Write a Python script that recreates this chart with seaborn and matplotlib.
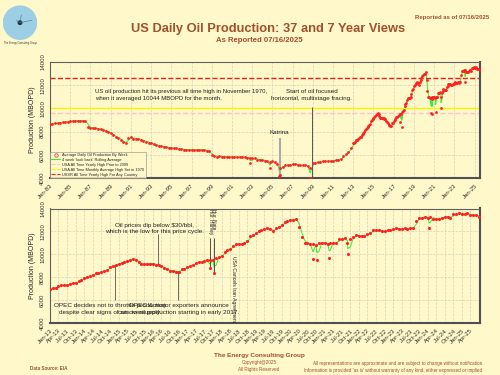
import matplotlib
matplotlib.use('Agg')
import matplotlib.pyplot as plt
from matplotlib.lines import Line2D
from matplotlib.patches import Circle
import seaborn as sns
import numpy as np
import pandas as pd


# ---- Data --------------------------------------------------------------####

# quarterly readings 1983 - 2012 (MBOPD)
hist_start = '1983-01-01'
hist_mbopd = [8650, 8680, 8700, 8720,   8750, 8800, 8830, 8860,   8900, 8930, 8950, 8950,
              8950, 8920, 8900, 8400,   8350, 8300, 8280, 8250,   8200, 8150, 8050, 7950,
              7850, 7700, 7550, 7450,   7300, 7100, 7050, 7450,   7500, 7400, 7350, 7400,
              7300, 7200, 7150, 7050,   7000, 6900, 6850, 6750,   6750, 6700, 6650, 6600,
              6600, 6550, 6550, 6500,   6500, 6450, 6450, 6450,   6450, 6400, 6450, 6450,
              6450, 6400, 6350, 6300,   5950, 5900, 5850, 5900,   5850, 5850, 5850, 5800,
              5850, 5800, 5850, 5800,   5850, 5800, 5750, 5750,   5750, 5700, 5600, 5600,
              5550, 5500, 5450, 5350,   5450, 5350, 5200, 4900,   5000, 5100, 5150, 5150,
              5200, 5200, 5150, 5100,   5100, 5100, 5050, 4900,   5300, 5300, 5350, 5400,
              5450, 5450, 5450, 5500,   5500, 5550, 5600, 5650,   5900, 6100, 6250, 6600]

# monthly readings Jan 2013 - Jul 2025 (MBOPD)
recent_start = '2013-01-01'
recent_mbopd = [7000, 7050, 7100, 7250, 7300, 7300, 7350, 7450, 7500, 7550, 7700, 7800,
                7900, 8000, 8100, 8200, 8350, 8400, 8500, 8550, 8650, 8900, 9000, 9100,
                9200, 9250, 9350, 9400, 9550, 9600, 9500, 9350, 9150, 9150, 9200, 9200,
                9200, 9100, 9050, 8950, 8800, 8700, 8550, 8550, 8500, 8500, 8700, 8700,
                8900, 9000, 9100, 9250, 9300, 9350, 9400, 9500, 9500, 9550, 9650, 9800,
                9900, 10200, 10400, 10500, 10700, 10900, 10900, 10900, 11000, 11200, 11600, 11700,
                11900, 12000, 12100, 12200, 12300, 12200, 12000, 12300, 12400, 12600, 12800, 12900,
                13000, 13000, 13100, 12400, 11500, 11000, 11000, 10900, 10900, 10800, 11000, 11000,
                11000, 10900, 11000, 11000, 11000, 11300, 11300, 11400, 11000, 11300, 11500, 11700,
                11600, 11600, 11600, 11800, 11900, 12100, 12100, 12100, 12000, 12000, 12100, 12100,
                12200, 12300, 12200, 12200, 12300, 12200, 12300, 12300, 12900, 13200, 13200, 13300,
                13200, 13300, 13100, 13100, 13100, 13200, 13300, 13300, 13200, 13500, 13500, 13600,
                13500, 13500, 13600, 13400, 13400, 13400, 13300]

# storm / outage weeks
event_dates = ['2002-10-05', '2004-09-20', '2005-09-02', '2005-09-26', '2008-09-15',
               '2017-09-01', '2017-10-10', '2020-08-28', '2020-10-10', '2021-02-19',
               '2021-09-03', '2024-01-19']
event_mbopd = [5300, 4900, 4200, 4300, 4000,
               8800, 8400, 9600, 9500, 9700,
               10000, 12300]

# reference levels
usa_high_pre2009 = 9637
usa_high_1970 = 10044
ussr_high = 12600

# colours
bg = '#FFF8CA'
brown = '#A0502D'


# ---- Build data frame -------------------------------------------------####

hist = pd.DataFrame({'date': pd.date_range(hist_start, periods=len(hist_mbopd), freq='QS'),
                     'mbopd': hist_mbopd})
recent = pd.DataFrame({'date': pd.date_range(recent_start, periods=len(recent_mbopd), freq='MS'),
                       'mbopd': recent_mbopd})
events = pd.DataFrame({'date': pd.to_datetime(event_dates), 'mbopd': event_mbopd})
df = pd.concat([hist, recent, events]).sort_values('date').reset_index(drop=True)
df['rolling'] = df['mbopd'].rolling(2, min_periods=1).mean()
df_recent = df[df['date'] >= pd.Timestamp(recent_start)]


# ---- Plot --------------------------------------------------------------####

sns.set_theme(style='white')
plt.rcParams['font.family'] = ['Liberation Sans', 'DejaVu Sans']

fig = plt.figure(figsize=(5, 3.75), dpi=100, facecolor=bg)
ax1 = fig.add_axes([0.1, 0.525, 0.86, 0.31])
ax2 = fig.add_axes([0.1, 0.138, 0.86, 0.306])


def style_axis(ax, ticks, fmt):
    ax.set_facecolor(bg)
    ax.set_ylim(4000, 14000)
    ax.set_yticks(range(4000, 14001, 2000))
    ax.set_yticklabels([str(v) for v in range(4000, 14001, 2000)], rotation=90, va='center', fontsize=4.3)
    ax.set_xticks(ticks)
    ax.set_xticklabels([t.strftime(fmt) for t in ticks], rotation=45, ha='right',
                       rotation_mode='anchor', fontsize=4.3)
    ax.tick_params(axis='both', length=2, width=0.5, pad=1.5, colors='#333333')
    ax.grid(True, color='#D8D2BC', linestyle='--', linewidth=0.5)
    ax.set_xlabel('')
    ax.set_ylabel('Production (MBOPD)', fontsize=5, labelpad=3)
    for side in ['top', 'left']:
        ax.spines[side].set_color('#606060')
        ax.spines[side].set_linewidth(0.8)
    for side in ['right', 'bottom']:
        ax.spines[side].set_color('#505050')
        ax.spines[side].set_linewidth(1.5)


# top panel: full history
sns.lineplot(data=df, x='date', y='rolling', color='#33EE33', linewidth=0.7, ax=ax1)
sns.scatterplot(data=df, x='date', y='mbopd', color='#FF2020', s=4, linewidth=0, ax=ax1, zorder=3)
ax1.axhline(usa_high_pre2009, color='#F8C8C8', linestyle='--', linewidth=1.0)
ax1.axhline(usa_high_1970, color='#FFEE00', linestyle='-', linewidth=1.0)
ax1.axhline(ussr_high, color='#E8201E', linestyle='--', linewidth=1.0)
ax1.set_xlim(pd.Timestamp('1983-01-01'), pd.Timestamp('2025-07-15'))
style_axis(ax1, pd.date_range('1983-01-01', '2025-01-01', freq='24MS'), '%b-%y')

ax1.text(pd.Timestamp('1987-06-01'), 11150,
         'US oil production hit its previous all time high in November 1970,\n'
         'when it averaged 10044 MBOPD for the month.',
         fontsize=4.3, ha='left', va='center', color='#222222', linespacing=1.35)
frac_date = pd.Timestamp('2008-11-15')
ax1.text(frac_date, 11150, 'Start of oil focused\nhorizontal, multistage fracing.',
         fontsize=4.5, ha='center', va='center', color='#222222', linespacing=1.35)
ax1.vlines(frac_date, 4000, 10150, color='#555555', linewidth=0.7)
katrina_date = pd.Timestamp('2005-09-15')
ax1.text(katrina_date, 7900, 'Katrina', fontsize=4.5, ha='center', va='center', color='#222222')
ax1.vlines(katrina_date, 4000, 7450, color='#AAAAAA', linewidth=1.5)

handles = [Line2D([], [], marker='o', markersize=2.5, markerfacecolor='none', markeredgecolor='#FF2020',
                  linestyle='none', markeredgewidth=0.5),
           Line2D([], [], color='#33EE33', linewidth=0.8),
           Line2D([], [], color='#F8C8C8', linestyle='--', linewidth=0.8),
           Line2D([], [], color='#FFEE00', linestyle='--', linewidth=0.8),
           Line2D([], [], color='#E8201E', linestyle='--', linewidth=0.8)]
labels = ['Average Daily Oil Production By Week', "4 week 'look back' Rolling Average",
          'USA All Time Yearly High Prior to 2009', 'USA All Time Monthly Average High Set in 1970',
          'USSR All Time Yearly High For Any Country']
leg = ax1.legend(handles, labels, loc='lower left', fontsize=2.8, frameon=True, borderpad=0.35,
                 labelspacing=0.25, handlelength=2.2, handletextpad=0.6, borderaxespad=0.0, fancybox=False)
leg.get_frame().set_facecolor(bg)
leg.get_frame().set_edgecolor('#888888')
leg.get_frame().set_linewidth(0.5)

# bottom panel: recent years
sns.lineplot(data=df_recent, x='date', y='rolling', color='#33EE33', linewidth=0.7, ax=ax2)
sns.scatterplot(data=df_recent, x='date', y='mbopd', color='#FF2020', s=5, linewidth=0, ax=ax2, zorder=3)
ax2.set_xlim(pd.Timestamp('2013-01-01'), pd.Timestamp('2025-07-12'))
style_axis(ax2, pd.date_range('2013-01-01', '2025-04-01', freq='QS'), '%b-%y')

dip_date = pd.Timestamp('2016-02-20')
ax2.text(pd.Timestamp('2016-01-20'), 12270, 'Oil prices dip below $30/bbl,\nwhich is the low for this price cycle.',
         fontsize=4.6, ha='center', va='center', color='#222222', linespacing=1.3)
ax2.vlines(dip_date, 9100, 11750, color='#555555', linewidth=0.6)

opec1_date = pd.Timestamp('2014-11-27')
ax2.text(pd.Timestamp('2014-10-01'), 5250, 'OPEC decides not to throttle production\ndespite clear signs of an oversupply.',
         fontsize=4.6, ha='center', va='center', color='#222222', linespacing=1.3)
ax2.vlines(opec1_date, 6000, 9100, color='#555555', linewidth=0.6)

opec2_date = pd.Timestamp('2016-09-28')
ax2.text(opec2_date, 5250, 'OPEC & major exporters announce\ncuts to oil production starting in early 2017.',
         fontsize=4.6, ha='center', va='center', color='#222222', linespacing=1.3)
ax2.vlines(opec2_date, 6000, 8550, color='#555555', linewidth=0.6)

for d, lab, low in [('2017-09-01', 'Hur. Harvey', 8700), ('2017-10-10', 'Hur. Nate', 8350)]:
    ax2.text(pd.Timestamp(d), 13950, lab, rotation=270, fontsize=3.4, ha='center', va='top', color='#222222')
    ax2.vlines(pd.Timestamp(d), low, 11450, color='#333333', linewidth=0.6)

ax2.text(pd.Timestamp('2018-05-08'), 9900, 'USA Cancels Iran Agreement', rotation=270, fontsize=3.6,
         ha='center', va='top', color='#222222')

# ---- Header / footer -----------------------------------------------------####

fig.text(0.537, 0.923, 'US Daily Oil Production: 37 and 7 Year Views', fontsize=9.3, fontweight='bold',
         color=brown, ha='center', va='center')
fig.text(0.518, 0.891, 'As Reported 07/16/2025', fontsize=5.6, fontweight='bold', color=brown,
         ha='center', va='center')
fig.text(0.905, 0.952, 'Reported as of 07/16/2025', fontsize=4.3, fontweight='bold', color=brown,
         ha='center', va='center')

logo = fig.add_axes([0.005, 0.893, 0.07, 0.093])
logo.set_xlim(-1, 1)
logo.set_ylim(-1, 1)
logo.set_aspect('equal')
logo.axis('off')
logo.add_patch(Circle((0, 0), 0.95, color='#9CCFE6'))
for r, a in [(0.7, 0.2), (0.45, 1.4), (0.25, 2.6)]:
    logo.plot([0, r * np.cos(a)], [0, r * np.sin(a)], color='#4A6F86', linewidth=0.4)
logo.add_patch(Circle((0, 0), 0.1, color='#223344'))
fig.text(0.04, 0.885, 'The Energy Consulting Group', fontsize=1.8, ha='center', va='center', color='#333333')

fig.text(0.518, 0.053, 'The Energy Consulting Group', fontsize=4.6, fontweight='bold', color=brown,
         ha='center', va='center')
fig.text(0.518, 0.034, 'Copyright@2025', fontsize=3.3, color=brown, ha='center', va='center')
fig.text(0.518, 0.016, 'All Rights Reserved', fontsize=3.3, color=brown, ha='center', va='center')
fig.text(0.06, 0.016, 'Data Source: EIA', fontsize=3.3, fontweight='bold', color=brown, ha='left', va='center')
fig.text(0.796, 0.032, 'All representations are approximate and are subject to change without notification.',
         fontsize=3.3, color=brown, ha='center', va='center')
fig.text(0.786, 0.013, "Information is provided 'as is' without warranty of any kind, either expressed or implied",
         fontsize=3.3, color=brown, ha='center', va='center')

plt.savefig('out.png', dpi=100, facecolor=bg)
plt.close('all')
